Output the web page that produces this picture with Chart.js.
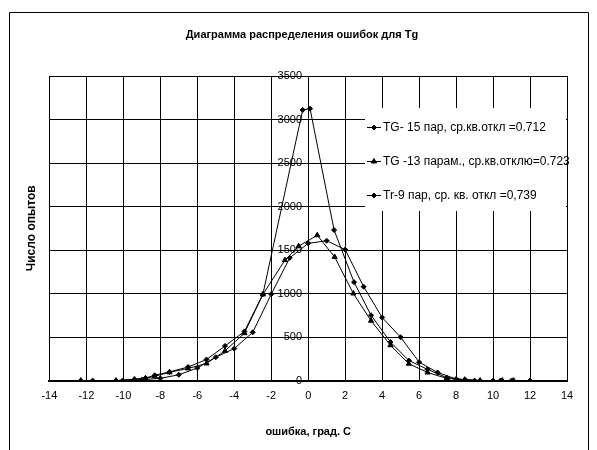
<!DOCTYPE html>
<html>
<head>
<meta charset="utf-8">
<script src="https://cdn.jsdelivr.net/npm/chart.js@4.4.1/dist/chart.umd.min.js"></script>
<style>
html,body{margin:0;padding:0;background:#fff;}
#wrap{width:597px;height:450px;position:relative;}
</style>
</head>
<body>
<div id="wrap"><canvas id="c" width="597" height="450"></canvas></div>
<script>
const chartTitle = 'Диаграмма распределения ошибок для Tg';
const xTitle = 'ошибка, град. С';
const yTitle = 'Число опытов';
const seriesNames = [
  'TG- 15 пар, ср.кв.откл =0.712',
  'TG -13 парам., ср.кв.отклю=0.723',
  'Tr-9 пар, ср. кв. откл =0,739'
];
const s1X = [-12.3, -10.4, -9.4, -8.8, -8.3, -7.5, -6.5, -5.5, -4.5, -3.45, -2.45, -0.3, 0.1, 1.4, 2.48, 3.4, 4.45, 5.45, 6.45, 7.5, 8.5, 9.3, 10.4, 11.1];
const s1Y = [0, 0, 15, 30, 62, 100, 156, 242, 398, 565, 993, 3110, 3125, 1730, 1131, 751, 443, 230, 130, 33, 10, 0, 0, 0];
const s2X = [-12.3, -10.4, -9.4, -8.8, -8.3, -7.5, -6.5, -5.5, -4.5, -3.45, -2.45, -1.26, -0.52, 0.49, 1.43, 2.44, 3.4, 4.45, 5.44, 6.46, 7.5, 8.46, 9.3, 10.5, 11.1];
const s2Y = [0, 0, 12, 25, 50, 95, 140, 197, 342, 545, 990, 1384, 1544, 1670, 1421, 1001, 688, 406, 194, 93, 25, 10, 0, 0, 0];
const s3X = [-11.66, -10.04, -9, -8, -7, -6, -5, -4, -3, -2, -1, 0, 1, 2, 3, 4, 5, 6, 7, 8, 9, 10, 11, 12];
const s3Y = [0, 0, 10, 26, 67, 145, 268, 368, 555, 993, 1410, 1577, 1607, 1506, 1079, 725, 498, 212, 93, 19, 0, 0, 0, 0];
const xTicks = {min: -14, max: 14, step: 2};
const yTicks = {min: 0, max: 3500, step: 500};

function pts(xs, ys){ return xs.map((x,i)=>({x:x, y:ys[i]})); }
const styles = ['rectRot','triangle','rectRot'];
const radii = [2.5, 3, 2.5];
const allX = [s1X, s2X, s3X], allY = [s1Y, s2Y, s3Y];

const datasets = seriesNames.map((name,i)=>({
  label: name,
  data: pts(allX[i], allY[i]),
  showLine: true,
  borderColor: '#000',
  backgroundColor: '#000',
  borderWidth: 1,
  pointStyle: styles[i],
  pointRadius: radii[i],
  pointBorderWidth: 1,
  tension: 0,
  yAxisID: 'y'
}));

const FONT = 'Liberation Sans, Arial, sans-serif';

const frame = {
  id: 'frame',
  beforeDraw(chart){
    const ctx = chart.ctx;
    ctx.save();
    ctx.fillStyle = '#fff';
    ctx.fillRect(0,0,chart.width,chart.height);
    ctx.font = 'bold 11px ' + FONT;
    ctx.fillStyle = '#000';
    ctx.textAlign = 'center';
    ctx.textBaseline = 'middle';
    ctx.fillText(chartTitle, 302, 35);
    ctx.restore();
  },
  afterDraw(chart){
    const ctx = chart.ctx;
    ctx.save();
    ctx.strokeStyle = '#000';
    ctx.lineWidth = 1;
    ctx.beginPath();
    ctx.moveTo(9.5, 450);
    ctx.lineTo(9.5, 12.5);
    ctx.lineTo(588.5, 12.5);
    ctx.lineTo(588.5, 450);
    ctx.stroke();
    ctx.restore();
  },
  afterDatasetsDraw(chart){
    const ctx = chart.ctx;
    const ca = chart.chartArea;
    ctx.save();
    const bx = 365, by = 108, bw = ca.right - 1 - bx, bh = 103;
    ctx.fillStyle = '#fff';
    ctx.fillRect(bx, by, bw, bh);
    ctx.font = '12px ' + FONT;
    ctx.textBaseline = 'middle';
    ctx.fillStyle = '#000';
    chart.data.datasets.forEach((ds,i)=>{
      const y = 127 + i*34;
      ctx.strokeStyle = '#000';
      ctx.lineWidth = 1;
      ctx.beginPath();
      ctx.moveTo(367, y+0.5); ctx.lineTo(381, y+0.5); ctx.stroke();
      Chart.helpers.drawPoint(ctx, {pointStyle: ds.pointStyle, radius: ds.pointRadius, borderWidth: 1, rotation: 0}, 374, y+0.5);
      ctx.fillText(ds.label, 383, y+1);
    });
    ctx.restore();
  }
};

new Chart(document.getElementById('c'), {
  type: 'scatter',
  data: {datasets},
  plugins: [frame],
  options: {
    responsive: false,
    animation: false,
    devicePixelRatio: 1,
    layout: {padding: {left: 18, right: 30, top: 76, bottom: 0}},
    plugins: {
      legend: {display: false},
      tooltip: {enabled: false},
      title: {display: false}
    },
    scales: {
      x: {
        type: 'linear',
        min: xTicks.min, max: xTicks.max,
        ticks: {stepSize: xTicks.step, color: '#000', font: {family: FONT, size: 11}, padding: 9, maxRotation: 0},
        grid: {color: '#000', lineWidth: 1, drawTicks: false},
        border: {color: '#000', width: 2},
        title: {display: true, text: xTitle, color: '#000', font: {family: FONT, size: 11, weight: 'bold'}, padding: {top: 14, bottom: 11}}
      },
      y: {
        type: 'linear',
        position: {x: 0},
        min: yTicks.min, max: yTicks.max,
        ticks: {stepSize: yTicks.step, color: '#000', font: {family: FONT, size: 11}, callback: v => v + '  '},
        grid: {color: '#000', lineWidth: 1, drawTicks: false},
        border: {color: '#000', width: 1}
      },
      yt: {
        type: 'linear',
        position: 'left',
        ticks: {display: false},
        grid: {display: false, drawTicks: false},
        border: {display: false},
        title: {display: true, text: yTitle, color: '#000', font: {family: FONT, size: 12, weight: 'bold'}, padding: {top: 6, bottom: 11}}
      }
    }
  }
});
</script>
</body>
</html>
